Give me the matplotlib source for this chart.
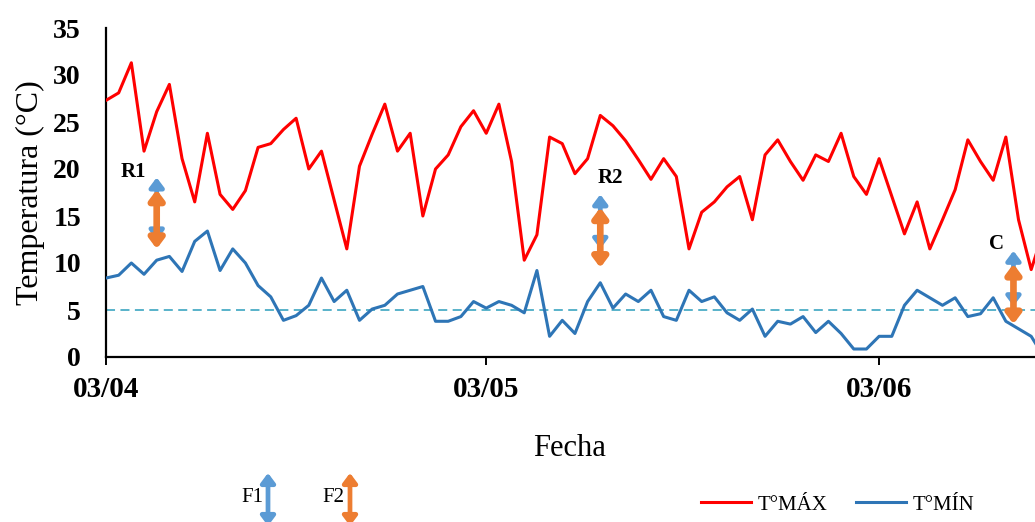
import matplotlib
matplotlib.use("Agg")
import matplotlib.pyplot as plt
import matplotlib.dates as mdates
from matplotlib.lines import Line2D
import pandas as pd

plt.rcParams["font.family"] = ["Liberation Serif", "DejaVu Serif"]

# Daily series, 03/04 onwards
inicio = "2019-04-03"
t_max = [27.3, 28.1, 31.3, 21.9, 26.1, 29.0, 21.1, 16.5, 23.8, 17.3,
         15.7, 17.7, 22.3, 22.7, 24.2, 25.4, 20.0, 21.9, 16.7, 11.5,
         20.3, 23.7, 26.9, 21.9, 23.8, 15.0, 20.0, 21.5, 24.5, 26.2,
         23.8, 26.9, 20.8, 10.3, 13.0, 23.4, 22.7, 19.5, 21.1, 25.7,
         24.6, 23.0, 21.0, 18.9, 21.1, 19.2, 11.5, 15.4, 16.5, 18.1,
         19.2, 14.6, 21.5, 23.1, 20.8, 18.8, 21.5, 20.8, 23.8, 19.2,
         17.3, 21.1, 17.1, 13.1, 16.5, 11.5, 14.6, 17.8, 23.1, 20.8,
         18.8, 23.4, 14.6, 9.3, 13.5]
t_min = [8.4, 8.7, 10.0, 8.8, 10.3, 10.7, 9.1, 12.3, 13.4, 9.2,
         11.5, 10.0, 7.6, 6.4, 3.9, 4.4, 5.5, 8.4, 5.9, 7.1,
         3.9, 5.1, 5.5, 6.7, 7.1, 7.5, 3.8, 3.8, 4.3, 5.9,
         5.2, 5.9, 5.5, 4.7, 9.2, 2.2, 3.9, 2.5, 5.9, 7.9,
         5.2, 6.7, 5.9, 7.1, 4.3, 3.9, 7.1, 5.9, 6.4, 4.7,
         3.9, 5.1, 2.2, 3.8, 3.5, 4.3, 2.6, 3.8, 2.5, 0.85,
         0.85, 2.2, 2.2, 5.5, 7.1, 6.3, 5.5, 6.3, 4.3, 4.6,
         6.3, 3.8, 3.0, 2.2, 0.0]
umbral = 5
ticks_fecha = ["2019-04-03", "2019-05-03", "2019-06-03"]
y_ticks = [0, 5, 10, 15, 20, 25, 30, 35]

# F1 / F2 ranges marked on the chart
marcas = ["R1", "R2", "C"]
marca_dia = [4, 39, 71.6]
f1_rango = [(12.4, 19.1), (11.5, 17.3), (5.4, 11.3)]
f2_rango = [(11.5, 17.8), (9.5, 15.9), (3.5, 9.9)]

C_MAX = "#FF0000"
C_MIN = "#2E75B6"
C_F1 = "#5B9BD5"
C_F2 = "#ED7D31"
C_UMBRAL = "#4BACC6"

fechas = pd.date_range(inicio, periods=len(t_max), freq="D")
t0 = pd.Timestamp(inicio)

fig = plt.figure(figsize=(10.35, 5.22), dpi=100)
ax = fig.add_axes([106 / 1035, 1 - 357 / 522, 929 / 1035, 329 / 522])

ax.plot(fechas, t_max, color=C_MAX, lw=2.2, zorder=3)
ax.plot(fechas, t_min, color=C_MIN, lw=2.2, zorder=3)
ax.axhline(umbral, color=C_UMBRAL, lw=1.3, ls=(0, (5, 3)), zorder=2)


def flecha(ax, x0, y0, x1, y1, color, lw, coords="data"):
    ax.annotate("", xy=(x0, y0), xytext=(x1, y1),
                xycoords=coords, textcoords=coords, annotation_clip=False,
                arrowprops=dict(arrowstyle="<|-|>,head_length=0.4,head_width=0.3",
                                mutation_scale=14, lw=lw, color=color,
                                shrinkA=0, shrinkB=0))


offsets = [(-17, 4), (7, 12), (-12, 5)]
for nombre, dia, r1, r2, off in zip(marcas, marca_dia, f1_rango, f2_rango, offsets):
    x = t0 + pd.Timedelta(days=dia)
    flecha(ax, x, r1[1], x, r1[0], C_F1, 3.4)
    flecha(ax, x, r2[1], x, r2[0], C_F2, 4.8)
    ax.annotate(nombre, xy=(x, r1[1]), xytext=off, textcoords="offset points",
                ha="center", va="center", fontsize=15, fontweight="bold")

ax.set_xlim(t0, t0 + pd.Timedelta(days=73.3))
ax.set_ylim(0, 35)
ax.set_xticks(pd.to_datetime(ticks_fecha))
ax.xaxis.set_major_formatter(mdates.DateFormatter("%d/%m"))
ax.set_yticks(y_ticks)

for s in ("top", "right"):
    ax.spines[s].set_visible(False)
for s in ("left", "bottom"):
    ax.spines[s].set_linewidth(1.6)
ax.tick_params(axis="x", length=6, width=1.4, pad=8, labelsize=21)
ax.tick_params(axis="y", length=0, pad=18, labelsize=20)
for lab in ax.get_xticklabels() + ax.get_yticklabels():
    lab.set_fontweight("bold")

ax.set_ylabel("Temperatura (°C)", fontsize=23, labelpad=6)
fig.text(570 / 1035, 1 - 448 / 522, "Fecha", ha="center", va="center", fontsize=22)

# series legend
handles = [Line2D([], [], color=C_MAX, lw=2.2), Line2D([], [], color=C_MIN, lw=2.2)]
fig.legend(handles, ["T°MÁX", "T°MÍN"], loc="center left",
           bbox_to_anchor=(701 / 1035, 1 - 505 / 522), ncol=2, frameon=False,
           fontsize=15, handlelength=2.4, handletextpad=0.3, columnspacing=1.4,
           borderpad=0, borderaxespad=0)

# arrow key
fig.text(252 / 1035, 1 - 497 / 522, "F1", ha="center", va="center", fontsize=15)
fig.text(333 / 1035, 1 - 497 / 522, "F2", ha="center", va="center", fontsize=15)
flecha(ax, 268, 522 - 473, 268, -4, C_F1, 3.4, coords="figure pixels")
flecha(ax, 350, 522 - 473, 350, -4, C_F2, 3.4, coords="figure pixels")

fig.savefig("out.png", dpi=100)
